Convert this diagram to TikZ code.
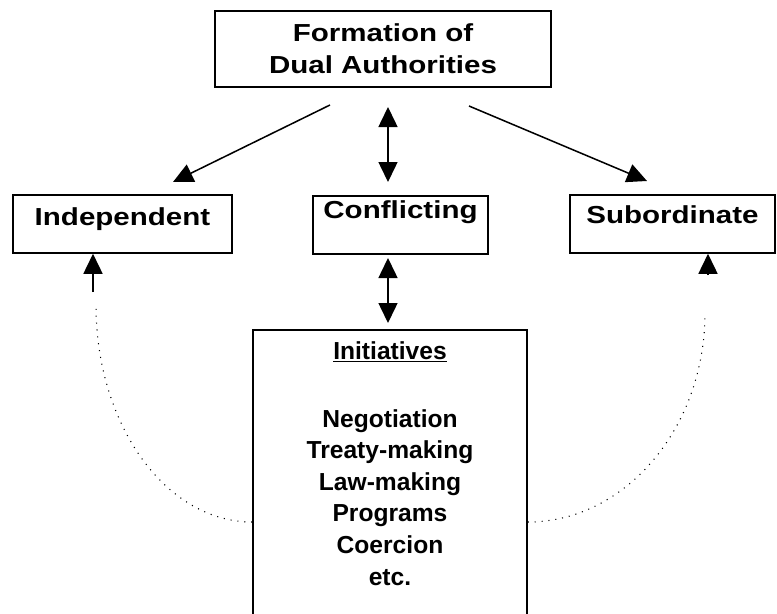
\documentclass[tikz,border=0pt]{standalone}
\usepackage{fontspec}
\setmainfont{Liberation Sans}
\newfontfamily\widesans[FakeStretch=1.2]{Liberation Sans}
\usetikzlibrary{arrows.meta}

\tikzset{
  box/.style={draw,line width=1.3pt,inner xsep=0pt,inner ysep=0pt,
    font=\widesans\bfseries\fontsize{21}{27}\selectfont},
  arr/.style={line width=1.3pt,-{Triangle[length=0.6cm,width=0.57cm]}},
  dblarr/.style={line width=1.3pt,
    {Triangle[length=0.6cm,width=0.57cm]}-{Triangle[length=0.6cm,width=0.57cm]}},
  dots/.style={line width=0.9pt,dash pattern=on 0.9pt off 5pt}
}

\begin{document}
\begin{tikzpicture}[x=0.03cm,y=-0.03cm]
\clip (0,0) rectangle (777,614);
% boxes
\node[box,minimum width=10.08cm,minimum height=2.28cm,align=center] (form) at (383,49) {Formation of\\Dual Authorities};
\node[box,minimum width=6.57cm,minimum height=1.74cm,text height=0.9cm,text depth=0.84cm] (indep) at (122.5,224) {Independent};
\node[box,minimum width=5.25cm,minimum height=1.74cm,text height=0.66cm,text depth=1.08cm] (confl) at (400.5,225) {Conflicting};
\node[box,minimum width=6.15cm,minimum height=1.74cm,text height=0.84cm,text depth=0.9cm] (subord) at (672.5,224) {Subordinate};
\node[box,minimum width=8.22cm,minimum height=8.7cm] (init) at (390,475) {};
\node[anchor=north,inner sep=0pt,align=center,font=\bfseries\fontsize{21}{27}\selectfont] (initlist) at (390,341)
  {\underline{Initiatives}\\[31pt]Negotiation\\Treaty-making\\Law-making\\Programs\\Coercion\\etc.};
% arrow ends
\coordinate (formL) at (330,105);
\coordinate (indepTip) at (173,182);
\coordinate (formR) at (469,106);
\coordinate (subTip) at (647,181);
\coordinate (midTop) at (388,107);
\coordinate (midBot) at (388,182);
\coordinate (lowTop) at (388,258);
\coordinate (lowBot) at (388,323);
\coordinate (indepTail) at (93,292);
\coordinate (subTail) at (708,275);
\coordinate (dotrow) at (0,522);
\coordinate (dotL) at (96,305);
\coordinate (dotR) at (705,313);
% arrows
\draw[arr] (formL) -- (indepTip);
\draw[arr] (formR) -- (subTip);
\draw[dblarr] (midTop) -- (midBot);
\draw[dblarr] (lowTop) -- (lowBot);
\draw[arr] (indepTail) -- (indepTail |- indep.south);
\draw[arr] (subTail) -- (subTail |- subord.south);
% dotted feedback
\draw[dots] (init.west |- dotrow) .. controls (166,522) and (96,425) .. (dotL);
\draw[dots] (init.east |- dotrow) .. controls (625,522) and (705,428) .. (dotR);
\end{tikzpicture}
\end{document}
